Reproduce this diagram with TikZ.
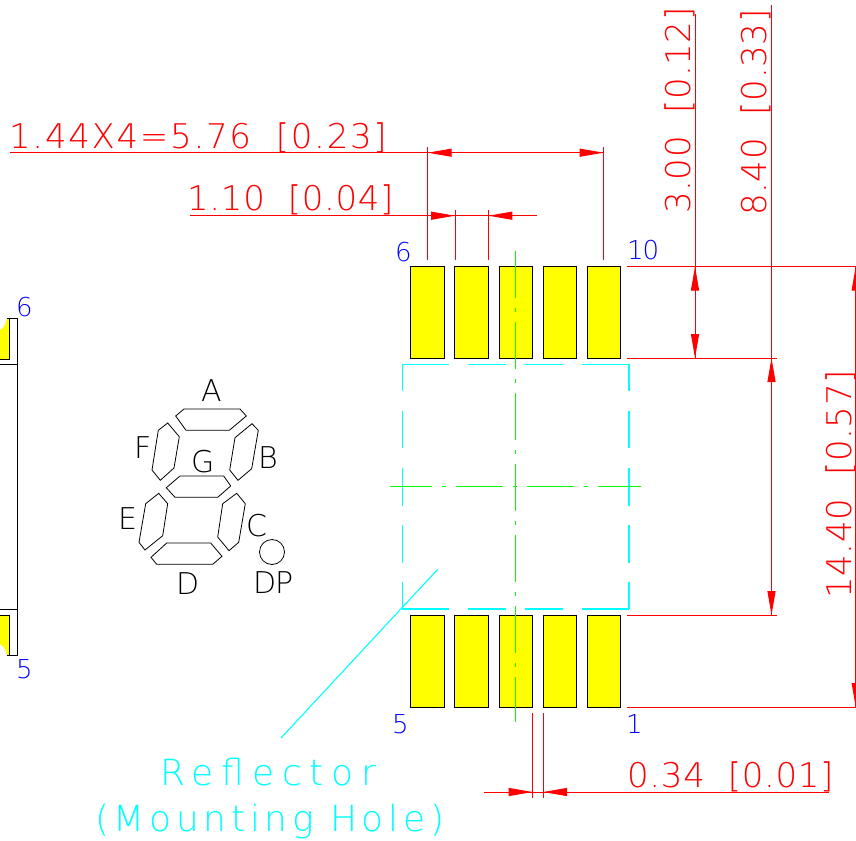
\documentclass[tikz,border=0pt]{standalone}
\usepackage{fontspec}
\usetikzlibrary{arrows.meta}
\newfontfamily\dimfont[LetterSpace=2,WordSpace=2]{DejaVu Sans ExtraLight}
\newfontfamily\pinfont[LetterSpace=-4]{DejaVu Sans ExtraLight}
\newfontfamily\holefont[LetterSpace=22]{DejaVu Sans ExtraLight}
\definecolor{cadred}{RGB}{255,0,0}
\definecolor{cadblue}{RGB}{0,0,255}
\definecolor{cadcyan}{RGB}{0,255,255}
\definecolor{cadgreen}{RGB}{0,255,0}
\definecolor{cadyellow}{RGB}{255,255,0}

\begin{document}
\begin{tikzpicture}[x=1pt,y=-1pt]
			\tikzstyle{every node}=[inner sep=0,anchor=base west]
			\tikzstyle{pad}=[rectangle,draw=black,fill=cadyellow,line width=1pt,anchor=center,minimum width=33.5pt,minimum height=92pt]
			\tikzstyle{redline}=[draw=cadred,line width=1pt]
			\tikzstyle{redtip}=[redline,-{Triangle[length=24pt,width=8pt]}]
			\tikzstyle{dimtext}=[cadred,font=\dimfont\fontsize{34}{34}\selectfont]
			\tikzstyle{pin}=[cadblue,font=\pinfont\fontsize{26}{26}\selectfont]
			\tikzstyle{seg}=[black,font=\pinfont\fontsize{30}{30}\selectfont]
			\tikzstyle{hole}=[cadcyan,font=\holefont\fontsize{36}{36}\selectfont]
			\tikzstyle{outline}=[draw=black,line width=.8pt]
			\tikzstyle{cyanrow}=[draw=cadcyan,line width=1.1pt,dash pattern=on 47pt off 19pt on 38pt off 19pt on 38pt off 19pt on 47pt]
			\tikzstyle{cyancol}=[draw=cadcyan,line width=1.1pt,dash pattern=on 27pt off 20pt on 37pt off 20pt on 38pt off 19pt on 38pt off 19pt on 27pt]
			\tikzstyle{centerline}=[draw=cadgreen,line width=1.2pt,dash pattern=on 47pt off 10pt on 4pt off 10pt]

			\useasboundingbox (0,0) rectangle (856,840);

			% side view
			\fill[cadyellow] (9,318) -- (9,359) -- (0,359) -- (0,330) .. controls (4,328) and (6,324) .. (7,318) -- cycle;
			\fill[cadyellow] (9,655) -- (9,615) -- (0,615) -- (0,644) .. controls (4,646) and (6,650) .. (7,655) -- cycle;
			\draw[outline] (7,318) -- (17,318) -- (17,655) -- (7,655);
			\draw[outline] (9,318) -- (9,359) -- (0,359);
			\draw[outline] (9,655) -- (9,615) -- (0,615);
			\draw[outline] (0,364) -- (17,364);
			\draw[outline] (0,609) -- (17,609);
			\node[pin] (side6) at (16,316.5) {6};
			\node[pin] (side5) at (16,678) {5};

			% segments
			\draw[outline] (175.7,416) -- (184,409) -- (240,409) -- (246.3,416) -- (229.3,430.3) -- (186,430.3) -- cycle;
			\draw[outline] (167.7,423) -- (179.3,436.7) -- (174,468) -- (160.3,480.3) -- (152,470) -- (158.3,430.3) -- cycle;
			\draw[outline] (252,423.7) -- (258.3,430.3) -- (251.7,468.7) -- (238,480.3) -- (229.7,470) -- (235,437.7) -- cycle;
			\draw[outline] (180,476) -- (223.7,476) -- (230.7,486) -- (217.7,497.3) -- (175,497.3) -- (166.3,487.7) -- cycle;
			\draw[outline] (158.7,493.3) -- (167.7,503.7) -- (162.7,535.7) -- (145,550) -- (139,542.3) -- (145.7,503.7) -- cycle;
			\draw[outline] (236.7,493.3) -- (245.3,503.7) -- (238.7,542.3) -- (229,550.7) -- (217.7,537) -- (222.7,503.7) -- cycle;
			\draw[outline] (166.7,543) -- (210.7,543) -- (222,556.3) -- (212.7,564.3) -- (156.7,564.3) -- (151,557.3) -- cycle;
			\node[outline,circle,minimum size=25pt,anchor=center] (dpdot) at (272,552) {};
			\node[seg] (segA) at (201,401) {A};
			\node[seg] (segF) at (134,458) {F};
			\node[seg] (segG) at (191,472) {G};
			\node[seg] (segB) at (258,468) {B};
			\node[seg] (segE) at (118,529) {E};
			\node[seg] (segC) at (246,536) {C};
			\node[seg] (segD) at (176,594) {D};
			\node[seg] (segDP) at (253,593) {DP};

			% land pattern
			\foreach \i/\x in {1/427.5,2/471.7,3/516,4/560,5/604.2}{
				\node[pad] (top\i) at (\x,312.3) {};
				\node[pad] (bot\i) at (\x,661) {};
			}
			\node[pin] (pin6) at (395,261) {6};
			\node[pin] (pin10) at (627,259) {10};
			\node[pin] (pin5) at (392,733) {5};
			\node[pin] (pin1) at (626,733) {1};

			% reflector
			\draw[cyanrow] (402.3,364.3) -- (629,364.3);
			\draw[cyanrow] (402.3,609) -- (629,609);
			\draw[cyancol] (402.3,364.3) -- (402.3,609);
			\draw[cyancol] (629,364.3) -- (629,609);
			\draw[draw=cadcyan,line width=1.1pt] (437.7,569.3) -- (281,738);
			\node[hole] (reflector) at (160,785) {Reflector};
			\node[hole] (mounting) at (95,831) {\addfontfeature{LetterSpace=13}(Mounting Hole)};

			% center lines
			\draw[centerline] (515.7,251) -- (515.7,722);
			\draw[centerline,dash phase=4.7pt] (390,486.7) -- (641,486.7);

			% dimensions
			\draw[redline] (10,152.7) -- (603.7,152.7);
			\draw[redline] (427.7,147) -- (427.7,260);
			\draw[redline] (603.7,147) -- (603.7,260);
			\draw[redtip] (452,152.7) -- (427.7,152.7);
			\draw[redtip] (579.5,152.7) -- (603.7,152.7);
			\node[dimtext] (pitchtext) at (9,148) {\addfontfeature{LetterSpace=5}1.44X4=5.76 [0.23]};

			\draw[redline] (190,215.7) -- (537,215.7);
			\draw[redline] (455,210) -- (455,260);
			\draw[redline] (488.3,210) -- (488.3,260);
			\draw[redtip] (430,215.7) -- (455,215.7);
			\draw[redtip] (513,215.7) -- (488.3,215.7);
			\node[dimtext] (padtext) at (187,210) {1.10 [0.04]};

			\draw[redline] (627,266.5) -- (856,266.5);
			\draw[redline] (627,358) -- (777,358);
			\draw[redline] (627,615) -- (777,615);
			\draw[redline] (627,707) -- (856,707);

			\draw[redline] (695,14) -- (695,358);
			\draw[redtip] (695,291) -- (695,266.5);
			\draw[redtip] (695,334) -- (695,358);
			\node[dimtext,rotate=90] (lentext) at (690,214) {3.00 [0.12]};

			\draw[redline] (771.5,5) -- (771.5,615);
			\draw[redtip] (771.5,383) -- (771.5,358);
			\draw[redtip] (771.5,590) -- (771.5,615);
			\node[dimtext,rotate=90] (gaptext) at (766,216) {8.40 [0.33]};

			\draw[redline] (855.7,266.5) -- (855.7,707);
			\draw[redtip] (855.7,291) -- (855.7,266.5);
			\draw[redtip] (855.7,683) -- (855.7,707);
			\node[dimtext,rotate=90] (spantext) at (851,599) {14.40 [0.57]};

			\draw[redline] (484,792) -- (829,792);
			\draw[redline] (532.7,713) -- (532.7,798);
			\draw[redline] (543,713) -- (543,798);
			\draw[redtip] (508,792) -- (532.7,792);
			\draw[redtip] (568,792) -- (543,792);
			\node[dimtext] (slottext) at (627,787) {0.34 [0.01]};
\end{tikzpicture}
\end{document}
